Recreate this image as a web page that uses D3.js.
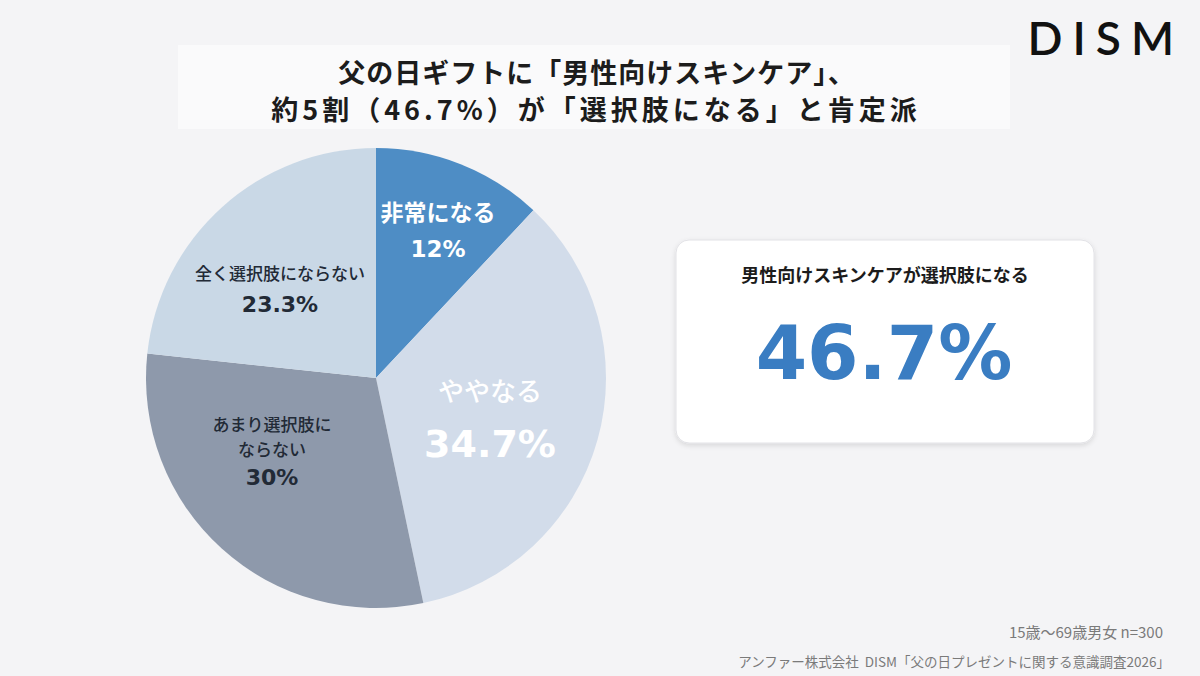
<!DOCTYPE html>
<html>
<head>
<meta charset="utf-8">
<script src="https://cdn.jsdelivr.net/npm/d3@7"></script>
<style>
  body { margin: 0; background: #f4f4f6; }
  svg { display: block; font-family: "Noto Sans CJK JP", "Noto Sans", sans-serif; }
</style>
</head>
<body>
<svg></svg>
<script>
const width = 1200;
const height = 676;

// slices, clockwise from 12 o'clock
const labels = [["非常になる"], ["ややなる"], ["あまり選択肢に", "ならない"], ["全く選択肢にならない"]];
const values = [12, 34.7, 30, 23.3];
const valueText = ["12%", "34.7%", "30%", "23.3%"];
const colors = ["#4e8dc5", "#d2dcea", "#8e99ab", "#c9d8e6"];
const textColors = ["#ffffff", "#ffffff", "#222a36", "#222a36"];

const titleLines = ["父の日ギフトに「男性向けスキンケア」、", "約5割（46.7%）が「選択肢になる」と肯定派"];
const cardTitle = "男性向けスキンケアが選択肢になる";
const cardValue = "46.7%";
const notes = ["15歳～69歳男女 n=300", "アンファー株式会社\u00a0\u00a0DISM「父の日プレゼントに関する意識調査2026」"];

const numFont = "'DejaVu Sans', Verdana, sans-serif";

const svg = d3.select("svg")
  .attr("width", width)
  .attr("height", height);

svg.append("rect")
  .attr("width", width)
  .attr("height", height)
  .attr("fill", "#f4f4f6");

// logo
svg.append("text")
  .attr("x", 1184)
  .attr("y", 55)
  .attr("text-anchor", "end")
  .attr("font-family", "Lato, 'Open Sans', sans-serif")
  .attr("font-size", "46px")
  .attr("font-weight", 600)
  .attr("letter-spacing", "10px")
  .attr("fill", "#111")
  .text("DISM");

// title
svg.append("rect")
  .attr("x", 178)
  .attr("y", 45)
  .attr("width", 832)
  .attr("height", 84)
  .attr("fill", "#fafafb");

svg.selectAll(".title")
  .data(titleLines)
  .enter()
  .append("text")
  .attr("class", "title")
  .attr("x", (d, i) => i === 0 ? 597 : 596)
  .attr("y", (d, i) => 83 + i * 37)
  .attr("text-anchor", "middle")
  .attr("font-size", "27px")
  .attr("font-weight", 700)
  .attr("letter-spacing", (d, i) => i === 0 ? "1px" : "4px")
  .attr("fill", "#1c1c1c")
  .text(d => d);

// pie
const cx = 376, cy = 378, radius = 230;

const pie = d3.pie().sort(null).value(d => d);
const arc = d3.arc().innerRadius(0).outerRadius(radius);
const arcs = pie(values);

const g = svg.append("g")
  .attr("transform", "translate(" + cx + "," + cy + ")");

g.selectAll("path")
  .data(arcs)
  .enter()
  .append("path")
  .attr("d", arc)
  .attr("fill", (d, i) => colors[i]);

// label positions (offset from centre), sizes per slice
const labelPos = [[62, -157], [114, 23], [-104, 53], [-96, -98]];
const nameSize = [23, 26, 17, 17];
const valueSize = [23, 38, 22, 22];
const nameWeight = [700, 500, 500, 500];
const valueGap = [36, 56, 29, 32];
const lineGap = 25;

arcs.forEach((a, i) => {
  const [lx, ly] = labelPos[i];
  const lines = labels[i];
  lines.forEach((line, j) => {
    g.append("text")
      .attr("x", lx)
      .attr("y", ly + j * lineGap)
      .attr("text-anchor", "middle")
      .attr("font-size", nameSize[i] + "px")
      .attr("font-weight", nameWeight[i])
      .attr("fill", textColors[i])
      .text(line);
  });
  g.append("text")
    .attr("x", lx)
    .attr("y", ly + (lines.length - 1) * lineGap + valueGap[i])
    .attr("text-anchor", "middle")
    .attr("font-family", numFont)
    .attr("font-size", valueSize[i] + "px")
    .attr("font-weight", 700)
    .attr("fill", textColors[i])
    .text(valueText[i]);
});

// summary card
const defs = svg.append("defs");
const filter = defs.append("filter").attr("id", "shadow")
  .attr("x", "-10%").attr("y", "-10%").attr("width", "120%").attr("height", "130%");
filter.append("feDropShadow")
  .attr("dx", 0).attr("dy", 2).attr("stdDeviation", 2.5)
  .attr("flood-color", "#000").attr("flood-opacity", 0.12);

svg.append("rect")
  .attr("x", 676)
  .attr("y", 240)
  .attr("width", 418)
  .attr("height", 203)
  .attr("rx", 13)
  .attr("fill", "#ffffff")
  .attr("stroke", "#e2e2e6")
  .attr("filter", "url(#shadow)");

svg.append("text")
  .attr("x", 885)
  .attr("y", 282)
  .attr("text-anchor", "middle")
  .attr("font-size", "18px")
  .attr("font-weight", 700)
  .attr("fill", "#1c1c1c")
  .text(cardTitle);

svg.append("text")
  .attr("x", 884)
  .attr("y", 379)
  .attr("text-anchor", "middle")
  .attr("font-family", numFont)
  .attr("font-size", "74px")
  .attr("font-weight", 700)
  .attr("fill", "#3a7dc2")
  .text(cardValue);

// notes
svg.selectAll(".note")
  .data(notes)
  .enter()
  .append("text")
  .attr("class", "note")
  .attr("x", (d, i) => i === 0 ? 1163 : 1170)
  .attr("y", (d, i) => 638 + i * 29)
  .attr("text-anchor", "end")
  .attr("font-size", (d, i) => i === 0 ? "15px" : "13.5px")
  .attr("fill", "#7a7a7a")
  .text(d => d);
</script>
</body>
</html>
